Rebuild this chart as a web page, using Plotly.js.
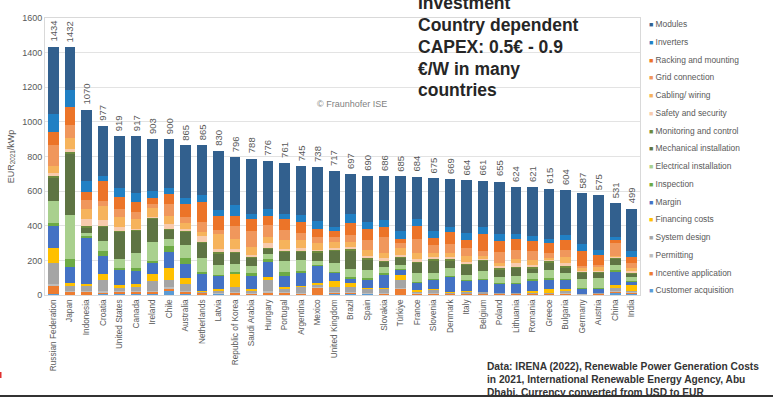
<!DOCTYPE html>
<html>
<head>
<meta charset="utf-8">
<script src="https://cdn.plot.ly/plotly-3.0.1.min.js"></script>
<style>
html,body{margin:0;padding:0;background:#fff;}
#chart{width:773px;height:397px;}
</style>
</head>
<body>
<div id="chart"></div>
<script>
const countries = ["Russian Federation","Japan","Indonesia","Croatia","United States","Canada","Ireland","Chile","Australia","Netherlands","Latvia","Republic of Korea","Saudi Arabia","Hungary","Portugal","Argentina","Mexico","United Kingdom","Brazil","Spain","Slovakia","Türkiye","France","Slovenia","Denmark","Italy","Belgium","Poland","Lithuania","Romania","Greece","Bulgaria","Germany","Austria","China","India"];
const totals = [1434,1432,1070,977,919,917,903,900,865,865,830,796,788,776,761,745,738,717,697,690,686,685,684,675,669,664,661,655,624,621,615,604,587,575,531,499];

const customerAcquisition = [8,2,2,8,3,3,3,25,3,2,3,1,2,2,2,2,2,3,4,5,1,2,2,1,1,1,1,1,1,1,1,2,1,1,10,3];
const incentiveApplication = [45,14,14,6,12,13,13,12,13,7,5,12,4,11,11,4,36,7,6,2,5,30,6,2,3,3,3,2,2,2,2,4,1,2,10,10];
const permitting = [10,8,8,10,6,6,10,8,8,4,4,5,4,8,4,8,6,6,6,5,6,10,4,6,4,4,4,3,3,4,3,5,2,3,6,4];
const systemDesign = [120,28,30,60,22,26,57,42,38,6,10,30,13,66,16,30,14,32,28,22,20,44,8,19,6,11,8,4,3,6,7,14,2,4,16,8];
const financingCosts = [90,18,12,36,16,14,37,71,34,6,10,72,10,15,15,10,13,35,23,8,6,29,9,6,5,5,4,3,3,10,20,12,1,2,15,33];
const margin = [125,93,262,107,86,78,63,92,81,96,77,1,79,90,62,71,98,46,27,44,77,29,42,52,83,56,66,50,52,60,54,48,27,24,77,19];
const inspection = [20,44,15,27,10,14,15,33,35,14,9,14,13,14,25,15,4,6,8,10,10,6,6,4,7,6,4,4,7,7,9,9,5,5,13,6];
const electricalInstallation = [125,258,18,60,52,87,106,39,77,77,58,44,44,29,63,62,25,48,46,48,34,26,48,38,45,30,50,38,39,38,49,33,55,55,29,19];
const mechanicalInstallation = [134,352,28,76,156,126,135,51,73,88,63,63,44,29,50,46,46,69,108,59,29,37,62,70,44,57,54,42,44,24,42,30,32,31,34,19];
const monitoringControl = [10,10,8,6,8,8,8,8,8,8,8,8,8,6,8,8,8,8,8,8,8,8,5,8,8,8,8,8,8,8,8,8,6,6,4,4];
const safetySecurity = [16,15,40,38,22,8,6,27,10,33,20,14,10,28,8,14,8,9,15,14,15,9,14,11,11,12,6,14,22,16,6,20,6,7,6,12];
const cablingWiring = [44,66,58,81,57,54,52,50,34,25,83,58,48,35,54,48,42,35,29,34,29,43,34,27,23,33,15,13,26,29,15,32,20,20,6,19];
const gridConnection = [120,73,54,29,48,42,20,68,38,58,28,76,93,71,57,38,31,33,39,58,96,25,83,44,54,44,33,64,49,48,29,45,10,12,77,27];
const rackingMounting = [73,106,48,117,68,58,38,57,72,115,77,58,65,52,62,64,46,31,67,62,58,25,77,43,71,48,96,67,63,58,58,57,89,57,14,38];
const inverters = [106,96,61,27,54,50,35,37,38,39,35,64,31,39,29,42,50,27,54,44,39,46,39,40,25,42,40,39,33,29,19,25,39,33,19,31];
const modules = [388,249,412,289,299,330,305,280,303,287,340,276,320,281,295,283,309,322,229,267,253,316,245,304,279,304,269,303,269,281,293,260,291,313,195,247];

// stacking order: bottom first
const seriesNames = ["Customer acquisition","Incentive application","Permitting","System design","Financing costs","Margin","Inspection","Electrical installation","Mechanical installation","Monitoring and control","Safety and security","Cabling/ wiring","Grid connection","Racking and mounting","Inverters","Modules"];
const seriesValues = [customerAcquisition,incentiveApplication,permitting,systemDesign,financingCosts,margin,inspection,electricalInstallation,mechanicalInstallation,monitoringControl,safetySecurity,cablingWiring,gridConnection,rackingMounting,inverters,modules];
const seriesColors = ["#5B9BD5","#ED7D31","#BDBDBD","#A5A5A5","#FFC000","#4472C4","#6DAA45","#A9D08E","#5E7443","#6E8B3D","#F8CBAD","#F6B35C","#F0975C","#EC7428","#2180C4","#32608E"];

const L = 45, R = 640, T = 18, B = 295;
const px = x => (x - L) / (R - L);
const py = y => (B - y) / (B - T);

const traces = seriesNames.map((n, i) => ({
  type: 'bar', name: n, x: countries, y: seriesValues[i],
  marker: {color: seriesColors[i], line: {width: 0}},
  showlegend: false, hoverinfo: 'x+y+name'
}));

const annotations = [];
countries.forEach((c, i) => {
  annotations.push({
    x: c, y: totals[i], xref: 'x', yref: 'y', text: String(totals[i]),
    textangle: -90, showarrow: false, xanchor: 'center', yanchor: 'bottom', yshift: 3,
    font: {family: 'Liberation Sans, Arial, sans-serif', size: 9.5, color: '#595959'}
  });
});

// legend (top = Modules)
for (let k = 0; k < seriesNames.length; k++) {
  const idx = seriesNames.length - 1 - k;
  annotations.push({
    xref: 'paper', yref: 'paper', x: px(647), y: py(24 + 17.75 * k),
    xanchor: 'left', yanchor: 'middle', showarrow: false,
    text: '<span style="color:' + seriesColors[idx] + ';font-size:7px">■</span> ' + seriesNames[idx],
    font: {family: 'Liberation Sans, Arial, sans-serif', size: 8.4, color: '#595959'}
  });
}

const bigFont = {family: 'Liberation Sans, Arial, sans-serif', size: 17.5, color: '#262626'};
const bigLines = ["<b>Investment</b>", "<b>Country dependent</b>", "<b>CAPEX: 0.5€ - 0.9</b>", "<b>€/W in many</b>", "<b>countries</b>"];
const bigY = [3, 25, 47, 69, 90];
bigLines.forEach((t, i) => annotations.push({
  xref: 'paper', yref: 'paper', x: px(416), y: py(bigY[i]), xanchor: 'left', yanchor: 'middle',
  showarrow: false, text: t, font: bigFont
}));

annotations.push({
  xref: 'paper', yref: 'paper', x: px(315), y: py(104), xanchor: 'left', yanchor: 'middle',
  showarrow: false, text: '© Fraunhofer ISE',
  font: {family: 'Liberation Sans, Arial, sans-serif', size: 9, color: '#7F7F7F'}
});

const srcLines = ["<b>Data: IRENA (2022), Renewable Power Generation Costs</b>", "<b>in 2021, International Renewable Energy Agency, Abu</b>", "<b>Dhabi. Currency converted from USD to EUR</b>"];
const srcY = [366, 379.5, 392];
srcLines.forEach((t, i) => annotations.push({
  xref: 'paper', yref: 'paper', x: px(485), y: py(srcY[i]), xanchor: 'left', yanchor: 'middle',
  showarrow: false, text: t,
  font: {family: 'Liberation Sans, Arial, sans-serif', size: 10.2, color: '#333333'}
}));

const layout = {
  width: 773, height: 397,
  margin: {l: L, r: 773 - R, t: T, b: 397 - B, pad: 0},
  paper_bgcolor: '#ffffff', plot_bgcolor: '#ffffff',
  barmode: 'stack', bargap: 0.36,
  showlegend: false,
  font: {family: 'Liberation Sans, Arial, sans-serif', color: '#595959'},
  xaxis: {
    type: 'category', tickangle: -90, ticks: '', showgrid: false,
    showline: true, linecolor: '#D9D9D9', linewidth: 1, mirror: true,
    tickfont: {size: 8.3, color: '#595959'}, automargin: false
  },
  yaxis: {
    range: [0, 1600], dtick: 200, showgrid: true, gridcolor: '#E3E3E3', gridwidth: 1,
    zeroline: false, showline: true, linecolor: '#D9D9D9', linewidth: 1, mirror: true,
    ticks: '', tickfont: {size: 9, color: '#595959'}, automargin: false,
    title: {text: 'EUR<sub>2021</sub>/kWp', font: {size: 9, color: '#595959'}, standoff: 6}
  },
  annotations: annotations,
  shapes: [
    {type: 'line', xref: 'paper', yref: 'paper', x0: px(0), x1: px(773), y0: py(396), y1: py(396), line: {color: '#333333', width: 2}},
    {type: 'line', xref: 'paper', yref: 'paper', x0: px(0.5), x1: px(0.5), y0: py(372), y1: py(378), line: {color: '#E03030', width: 2}}
  ]
};

Plotly.newPlot('chart', traces, layout, {displayModeBar: false, staticPlot: true});
</script>
</body>
</html>
